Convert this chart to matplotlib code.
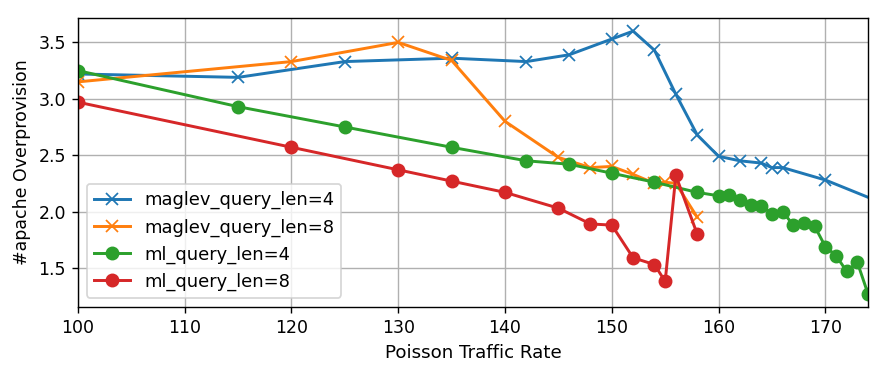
import matplotlib
matplotlib.use('Agg')
import matplotlib.pyplot as plt

# Poisson traffic rates and overprovision values
maglev4_x = [100, 115, 125, 135, 142, 146, 150, 152, 154, 156, 158, 160, 162, 164, 165, 166, 170, 176]
maglev4_y = [3.22, 3.19, 3.33, 3.36, 3.33, 3.39, 3.53, 3.60, 3.43, 3.04, 2.68, 2.49, 2.45, 2.43, 2.39, 2.39, 2.28, 2.05]

maglev8_x = [100, 120, 130, 135, 140, 145, 148, 150, 152, 154, 155, 156, 158]
maglev8_y = [3.15, 3.33, 3.50, 3.34, 2.80, 2.48, 2.39, 2.40, 2.33, 2.25, 2.26, 2.25, 1.95]

ml4_x = [100, 115, 125, 135, 142, 146, 150, 154, 158, 160, 161, 162, 163, 164, 165, 166,
         167, 168, 169, 170, 171, 172, 173, 174]
ml4_y = [3.25, 2.93, 2.75, 2.57, 2.45, 2.42, 2.34, 2.26, 2.17, 2.14, 2.15, 2.10, 2.06, 2.05,
         1.98, 2.00, 1.88, 1.90, 1.87, 1.69, 1.61, 1.47, 1.55, 1.27]

ml8_x = [100, 120, 130, 135, 140, 145, 148, 150, 152, 154, 155, 156, 158]
ml8_y = [2.97, 2.57, 2.37, 2.27, 2.17, 2.03, 1.89, 1.88, 1.59, 1.53, 1.38, 2.32, 1.80]

# dpi chosen so default font/line sizes match the reference scale
DPI = 125
fig = plt.figure(figsize=(887 / DPI, 374 / DPI), dpi=DPI)
ax = fig.add_axes([0.0879, 0.1791, 0.8907, 0.7728])

ax.plot(maglev4_x, maglev4_y, marker='x', markersize=7, lw=1.7, label='maglev_query_len=4')
ax.plot(maglev8_x, maglev8_y, marker='x', markersize=7, lw=1.7, label='maglev_query_len=8')
ax.plot(ml4_x, ml4_y, marker='o', markersize=7, lw=1.7, label='ml_query_len=4')
ax.plot(ml8_x, ml8_y, marker='o', markersize=7, lw=1.7, label='ml_query_len=8')

ax.set_xlim(100, 174)
ax.set_xlabel('Poisson Traffic Rate', fontsize=10.5)
ax.set_ylabel('#apache Overprovision')
ax.grid(True)
ax.legend(loc='lower left', fontsize=10.3)

plt.savefig('out.png', dpi=DPI)
